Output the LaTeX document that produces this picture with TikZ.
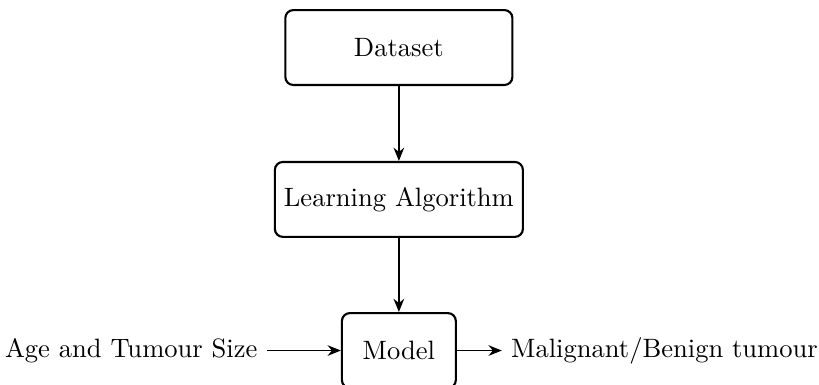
\documentclass[tikz,border=0pt]{standalone}
\usetikzlibrary{positioning,arrows.meta}
\begin{document}
\begin{tikzpicture}[
  x=1pt,y=1pt,
  stagebox/.style={draw, line width=0.8pt, rounded corners=3pt, minimum height=28.2pt, align=center},
  flow/.style={-{Stealth[length=5pt,width=4pt]}, line width=0.6pt},
  plain/.style={inner sep=3.33pt}
]
\useasboundingbox (0,0) rectangle (308.4,144.6);
\node[stagebox, minimum width=85.5pt] (data) at (150.2,126.7) {Dataset};
\node[stagebox, minimum width=93.4pt] (algo) at (150.2,69.5) {Learning Algorithm};
\node[stagebox, minimum width=42.9pt] (model) at (150.2,12.6) {Model};
\node[plain, left=27.9pt of model] (input) {Age and Tumour Size};
\node[plain, right=16.9pt of model] (output) {Malignant/Benign tumour};
\draw[flow] (data) -- (algo);
\draw[flow] (algo) -- (model);
\draw[flow] (input) -- (model);
\draw[flow] (model) -- (output);
\end{tikzpicture}
\end{document}
